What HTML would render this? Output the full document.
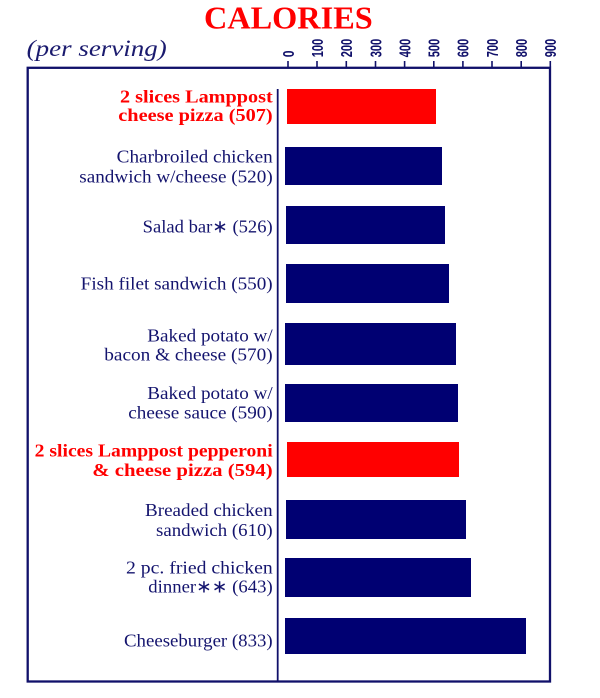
<!DOCTYPE html>
<html>
<head>
<meta charset="utf-8">
<style>
html,body{margin:0;padding:0;background:#ffffff;}
svg{display:block;}
</style>
</head>
<body>
<svg width="600" height="698" viewBox="0 0 600 698" xmlns="http://www.w3.org/2000/svg">
<rect x="0" y="0" width="600" height="698" fill="#ffffff"/>

<!-- Title -->
<text x="204" y="28.3" font-family="Liberation Serif, serif" font-weight="bold" font-size="32" fill="#ff0000" textLength="168.7" lengthAdjust="spacingAndGlyphs">CALORIES</text>
<text x="26.7" y="56" font-family="Liberation Serif, serif" font-style="italic" font-size="23" fill="#1a1a6e" textLength="140" lengthAdjust="spacingAndGlyphs">(per serving)</text>

<!-- Frame -->
<rect x="27.7" y="67.8" width="522.3" height="613.7" fill="none" stroke="#10106a" stroke-width="2.3"/>
<line x1="277.7" y1="89" x2="277.7" y2="681" stroke="#10106a" stroke-width="1.8"/>

<!-- Ticks and tick labels -->
<g stroke="#10106a" stroke-width="1.6">
<line x1="288" y1="61" x2="288" y2="67"/>
<line x1="317" y1="61" x2="317" y2="67"/>
<line x1="346.3" y1="61" x2="346.3" y2="67"/>
<line x1="375.5" y1="61" x2="375.5" y2="67"/>
<line x1="404.6" y1="61" x2="404.6" y2="67"/>
<line x1="433.8" y1="61" x2="433.8" y2="67"/>
<line x1="462.9" y1="61" x2="462.9" y2="67"/>
<line x1="492" y1="61" x2="492" y2="67"/>
<line x1="521.2" y1="61" x2="521.2" y2="67"/>
<line x1="550.3" y1="61" x2="550.3" y2="67"/>
</g>
<g font-family="Liberation Sans, sans-serif" font-size="15.5" font-weight="bold" fill="#10106a">
<text transform="translate(293.8,57.3) rotate(-90)" textLength="6.8" lengthAdjust="spacingAndGlyphs">0</text>
<text transform="translate(322.8,57.3) rotate(-90)" textLength="18.5" lengthAdjust="spacingAndGlyphs">100</text>
<text transform="translate(352.1,57.3) rotate(-90)" textLength="18.5" lengthAdjust="spacingAndGlyphs">200</text>
<text transform="translate(381.3,57.3) rotate(-90)" textLength="18.5" lengthAdjust="spacingAndGlyphs">300</text>
<text transform="translate(410.4,57.3) rotate(-90)" textLength="18.5" lengthAdjust="spacingAndGlyphs">400</text>
<text transform="translate(439.6,57.3) rotate(-90)" textLength="18.5" lengthAdjust="spacingAndGlyphs">500</text>
<text transform="translate(468.7,57.3) rotate(-90)" textLength="18.5" lengthAdjust="spacingAndGlyphs">600</text>
<text transform="translate(497.8,57.3) rotate(-90)" textLength="18.5" lengthAdjust="spacingAndGlyphs">700</text>
<text transform="translate(527,57.3) rotate(-90)" textLength="18.5" lengthAdjust="spacingAndGlyphs">800</text>
<text transform="translate(556.1,57.3) rotate(-90)" textLength="18.5" lengthAdjust="spacingAndGlyphs">900</text>
</g>

<!-- Bars -->
<rect x="287" y="89" width="149" height="35" fill="#ff0000"/>
<rect x="285" y="147" width="157" height="38" fill="#000072"/>
<rect x="286" y="206" width="159" height="38" fill="#000072"/>
<rect x="286" y="264" width="163" height="39" fill="#000072"/>
<rect x="285" y="323" width="171" height="42" fill="#000072"/>
<rect x="285" y="384" width="173" height="38" fill="#000072"/>
<rect x="287" y="442" width="172" height="35" fill="#ff0000"/>
<rect x="286" y="500" width="180" height="39" fill="#000072"/>
<rect x="285" y="558" width="186" height="39" fill="#000072"/>
<rect x="285" y="618" width="241" height="36" fill="#000072"/>

<!-- Labels -->
<g font-family="Liberation Serif, serif" font-size="18" text-anchor="end" fill="#14146e">
<text x="272.7" y="102.3" fill="#ff0000" font-weight="bold" textLength="152.7" lengthAdjust="spacingAndGlyphs">2 slices Lamppost</text>
<text x="272.7" y="121" fill="#ff0000" font-weight="bold" textLength="154.4" lengthAdjust="spacingAndGlyphs">cheese pizza (507)</text>

<text x="272.7" y="162.7" textLength="156" lengthAdjust="spacingAndGlyphs">Charbroiled chicken</text>
<text x="272.7" y="182.7" textLength="193.4" lengthAdjust="spacingAndGlyphs">sandwich w/cheese (520)</text>

<text x="272.7" y="232.3" textLength="130" lengthAdjust="spacingAndGlyphs">Salad bar∗ (526)</text>

<text x="272.7" y="289.3" textLength="192" lengthAdjust="spacingAndGlyphs">Fish filet sandwich (550)</text>

<text x="272.7" y="341.7" textLength="125.4" lengthAdjust="spacingAndGlyphs">Baked potato w/</text>
<text x="272.7" y="360.7" textLength="168.4" lengthAdjust="spacingAndGlyphs">bacon &amp; cheese (570)</text>

<text x="272.7" y="399" textLength="125.4" lengthAdjust="spacingAndGlyphs">Baked potato w/</text>
<text x="272.7" y="418.3" textLength="144.4" lengthAdjust="spacingAndGlyphs">cheese sauce (590)</text>

<text x="272.7" y="456.7" fill="#ff0000" font-weight="bold" textLength="238" lengthAdjust="spacingAndGlyphs">2 slices Lamppost pepperoni</text>
<text x="272.7" y="476" fill="#ff0000" font-weight="bold" textLength="180.4" lengthAdjust="spacingAndGlyphs">&amp; cheese pizza (594)</text>

<text x="272.7" y="516" textLength="127.7" lengthAdjust="spacingAndGlyphs">Breaded chicken</text>
<text x="272.7" y="536" textLength="116.7" lengthAdjust="spacingAndGlyphs">sandwich (610)</text>

<text x="272.7" y="573.3" textLength="146.7" lengthAdjust="spacingAndGlyphs">2 pc. fried chicken</text>
<text x="272.7" y="592.7" textLength="124.4" lengthAdjust="spacingAndGlyphs">dinner∗∗ (643)</text>

<text x="272.7" y="646.7" textLength="148.7" lengthAdjust="spacingAndGlyphs">Cheeseburger (833)</text>
</g>
</svg>
</body>
</html>
